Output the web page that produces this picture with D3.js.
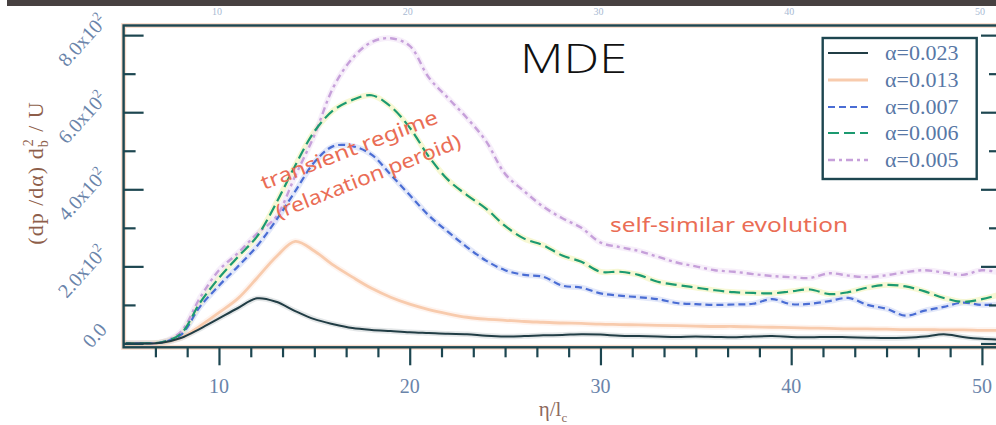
<!DOCTYPE html>
<html>
<head>
<meta charset="utf-8">
<script src="https://cdn.jsdelivr.net/npm/d3@7"></script>
<style>
  html, body { margin: 0; padding: 0; background: #ffffff; }
  svg { display: block; }
</style>
</head>
<body>
<script>
// Normalised distance η/l_c
const eta = [5, 6, 7, 8, 9, 10, 11, 12, 13, 14, 15, 16, 17, 18, 19, 20, 21, 22, 23, 24,
             25, 26, 27, 28, 29, 30, 31, 32, 33, 34, 35, 36, 37, 38, 39, 40, 41, 42, 43, 44,
             45, 46, 47, 48, 49, 50, 51];

// (dp/dα) d_b^2 / U for each entrainment coefficient
const alpha023 = [0, 0, 2, 14, 38, 65, 92, 117, 108, 84, 63, 50, 40, 35, 32, 29, 27, 25, 24, 20,
                  18, 19, 21, 22, 24, 23, 20, 19, 18, 17, 18, 17, 16, 18, 19, 17, 16, 17, 16, 15,
                  14, 15, 18, 24, 17, 12, 10];
const alpha013 = [0, 0, 2, 15, 45, 80, 117, 170, 225, 265, 240, 203, 172, 143, 120, 102, 88, 77, 68, 63,
                  60, 57, 55, 53, 52, 50, 49, 48, 47, 46, 45, 44, 44, 43, 42, 41, 40, 39, 38, 38,
                  37, 36, 36, 35, 35, 34, 34];
const alpha007 = [0, 0, 3, 22, 95, 150, 200, 253, 320, 395, 470, 512, 512, 490, 438, 385, 332, 290, 250, 215,
                  190, 178, 173, 150, 145, 130, 124, 120, 115, 105, 102, 100, 101, 103, 115, 102, 103, 110, 118, 100,
                  90, 72, 85, 95, 106, 100, 102];
const alpha006 = [0, 0, 3, 25, 105, 170, 225, 278, 364, 462, 550, 605, 632, 644, 615, 560, 485, 425, 385, 350,
                  305, 272, 255, 228, 212, 186, 186, 178, 160, 152, 145, 138, 133, 131, 130, 135, 140, 128, 133, 145,
                  152, 148, 135, 118, 108, 115, 128];
const alpha005 = [0, 0, 3, 30, 118, 190, 235, 285, 329, 435, 540, 665, 740, 782, 792, 772, 690, 637, 585, 525,
                  440, 395, 355, 325, 300, 262, 250, 240, 225, 210, 200, 190, 186, 180, 175, 172, 170, 182, 176, 172,
                  177, 185, 190, 184, 178, 190, 183];

const seriesNames = ["α=0.023", "α=0.013", "α=0.007", "α=0.006", "α=0.005"];
const seriesValues = [alpha023, alpha013, alpha007, alpha006, alpha005];

const yMajorTicks = [0, 200, 400, 600, 800];
const yMinorTicks = [100, 300, 500, 700];
const yTickMantissa = ["0.0", "2.0x10", "4.0x10", "6.0x10", "8.0x10"];
const yTickExponent = ["", "2", "2", "2", "2"];
const xMajorTicks = [10, 20, 30, 40, 50];
const xTickLabels = ["10", "20", "30", "40", "50"];
const xMinorTicks = [6.667, 8.333, 11.667, 13.333, 15, 16.667, 18.333, 21.667, 23.333, 25, 26.667, 28.333,
                     31.667, 33.333, 35, 36.667, 38.333, 41.667, 43.333, 45, 46.667, 48.333];

// line styles, one per series
const styles = [
  { color: "#213d45", width: 2.0, dash: null,        halo: "#213d45", haloOpacity: 0.12 },
  { color: "#f8cbad", width: 2.8, dash: null,        halo: "#fbdccb", haloOpacity: 0.3 },
  { color: "#4a6dd4", width: 2.2, dash: "7,4",       halo: "#b9c6f0", haloOpacity: 0.4 },
  { color: "#1c9a70", width: 2.2, dash: "11,5",      halo: "#eef0a0", haloOpacity: 0.45 },
  { color: "#c6a0da", width: 2.4, dash: "7,4,3,4",   halo: "#ead8f2", haloOpacity: 0.4 }
];

const W = 996, H = 425;
const frame = { left: 123.6, right: 1001, top: 25.5, bottom: 347.3 };
const frameColor = "#1d4650";
const tickTextColor = "#6a84aa";

const x = d3.scaleLinear().domain([5, 51]).range([frame.left, frame.right]);
const y = d3.scaleLinear().domain([-10, 825]).range([frame.bottom, frame.top]);

const svg = d3.select("body").append("svg")
  .attr("width", W).attr("height", H)
  .style("font-family", "'Liberation Serif', 'DejaVu Serif', serif");

// dark strip along the top, with the neighbouring panel's x labels just below it
svg.append("rect").attr("x", 7).attr("y", 0).attr("width", W - 7).attr("height", 6).attr("fill", "#474141");
svg.append("g").selectAll("text").data(xTickLabels).join("text")
  .attr("x", (d, i) => x(xMajorTicks[i]) - 2)
  .attr("y", 15)
  .attr("text-anchor", "middle")
  .attr("font-size", 10)
  .attr("fill", "#a9bad3")
  .text(d => d);

svg.append("defs").append("clipPath").attr("id", "plot-clip")
  .append("rect")
  .attr("x", frame.left).attr("y", frame.top)
  .attr("width", frame.right - frame.left).attr("height", frame.bottom - frame.top);

// curves
const line = d3.line()
  .x((d, i) => x(eta[i]))
  .y(d => y(d))
  .curve(d3.curveCatmullRom.alpha(0.5));

const plot = svg.append("g").attr("clip-path", "url(#plot-clip)");
// soft halo under each curve
seriesValues.forEach((vals, k) => {
  plot.append("path").datum(vals)
    .attr("d", line)
    .attr("fill", "none")
    .attr("stroke", styles[k].halo)
    .attr("stroke-width", styles[k].width + 3.5)
    .attr("stroke-opacity", styles[k].haloOpacity)
    .attr("stroke-linejoin", "round");
});
// light curves first so the darker ones sit on top
[1, 4, 2, 3, 0].forEach(k => {
  plot.append("path").datum(seriesValues[k])
    .attr("d", line)
    .attr("fill", "none")
    .attr("stroke", styles[k].color)
    .attr("stroke-width", styles[k].width)
    .attr("stroke-dasharray", styles[k].dash)
    .attr("stroke-linejoin", "round");
});

// frame
svg.append("rect")
  .attr("x", frame.left).attr("y", frame.top)
  .attr("width", frame.right - frame.left).attr("height", frame.bottom - frame.top)
  .attr("fill", "none").attr("stroke", "#f6c2a6").attr("stroke-width", 5).attr("stroke-opacity", 0.55);
svg.append("rect")
  .attr("x", frame.left).attr("y", frame.top)
  .attr("width", frame.right - frame.left).attr("height", frame.bottom - frame.top)
  .attr("fill", "none").attr("stroke", frameColor).attr("stroke-width", 2.4);

function styleAxis(g) {
  g.select(".domain").remove();
  g.selectAll(".tick line").attr("stroke", frameColor).attr("stroke-width", 2.2);
  g.selectAll(".tick text").remove();
}

// y ticks (inward on both sides)
svg.append("g").attr("transform", `translate(${frame.left},0)`)
  .call(d3.axisLeft(y).tickValues(yMajorTicks).tickSize(-20)).call(styleAxis);
svg.append("g").attr("transform", `translate(${frame.left},0)`)
  .call(d3.axisLeft(y).tickValues(yMinorTicks).tickSize(-12)).call(styleAxis);
svg.append("g").attr("transform", `translate(${frame.right},0)`)
  .call(d3.axisRight(y).tickValues(yMajorTicks).tickSize(-20)).call(styleAxis);
svg.append("g").attr("transform", `translate(${frame.right},0)`)
  .call(d3.axisRight(y).tickValues(yMinorTicks).tickSize(-12)).call(styleAxis);

// x ticks (outward)
svg.append("g").attr("transform", `translate(0,${frame.bottom})`)
  .call(d3.axisBottom(x).tickValues(xMajorTicks).tickSize(18)).call(styleAxis);
svg.append("g").attr("transform", `translate(0,${frame.bottom})`)
  .call(d3.axisBottom(x).tickValues(xMinorTicks).tickSize(10)).call(styleAxis);

// x tick labels
svg.append("g").selectAll("text").data(xTickLabels).join("text")
  .attr("x", (d, i) => x(xMajorTicks[i]))
  .attr("y", 393)
  .attr("text-anchor", "middle")
  .attr("font-size", 20)
  .attr("fill", tickTextColor)
  .text(d => d);

// y tick labels, slanted
const yLabels = svg.append("g").selectAll("text").data(yMajorTicks).join("text")
  .attr("transform", d => `translate(108,${y(d) - 13}) rotate(-48)`)
  .attr("text-anchor", "end")
  .attr("font-size", 20)
  .attr("fill", tickTextColor);
yLabels.append("tspan").text((d, i) => yTickMantissa[i]);
yLabels.append("tspan").attr("dy", -8).attr("font-size", 13).text((d, i) => yTickExponent[i]);

// axis titles
const yTitle = svg.append("text")
  .attr("transform", "translate(43,173) rotate(-90)")
  .attr("text-anchor", "middle")
  .attr("font-size", 22)
  .attr("letter-spacing", 1)
  .attr("fill", "#8e5e4a");
yTitle.append("tspan").text("(dp /dα) d");
yTitle.append("tspan").attr("dy", 5).attr("font-size", 14).text("b");
yTitle.append("tspan").attr("dx", -7).attr("dy", -15).attr("font-size", 14).text("2");
yTitle.append("tspan").attr("dy", 10).text(" / U");

const xTitle = svg.append("text")
  .attr("x", 553).attr("y", 416)
  .attr("text-anchor", "middle")
  .attr("font-size", 21)
  .attr("fill", "#8e6a5e");
xTitle.append("tspan").text("η/l");
xTitle.append("tspan").attr("dy", 6).attr("font-size", 13).text("c");

// legend
const legend = svg.append("g");
legend.append("rect")
  .attr("x", 822.7).attr("y", 38).attr("width", 154).attr("height", 141)
  .attr("fill", "#ffffff").attr("stroke", frameColor).attr("stroke-width", 2.4);
const rowY = [53, 80, 107, 133, 160];
seriesNames.forEach((name, k) => {
  legend.append("line")
    .attr("x1", 828).attr("x2", 868)
    .attr("y1", rowY[k]).attr("y2", rowY[k])
    .attr("stroke", styles[k].color)
    .attr("stroke-width", styles[k].width)
    .attr("stroke-dasharray", styles[k].dash);
  legend.append("text")
    .attr("x", 885).attr("y", rowY[k] + 7)
    .attr("font-size", 22)
    .attr("fill", "#5877a6")
    .text(name);
});

// annotations
svg.append("text")
  .attr("x", 520).attr("y", 73)
  .attr("font-family", "'Open Sans', 'DejaVu Sans', sans-serif")
  .attr("font-weight", 300)
  .attr("font-size", 41)
  .attr("textLength", 107).attr("lengthAdjust", "spacingAndGlyphs")
  .attr("fill", "#111111")
  .text("MDE");

const noteColor = "#ea6d55";
const noteFont = "'Noto Sans', 'DejaVu Sans', sans-serif";
svg.append("text")
  .attr("transform", "translate(264,190) rotate(-21)")
  .attr("font-family", noteFont).attr("font-size", 20)
  .attr("textLength", 188).attr("lengthAdjust", "spacingAndGlyphs")
  .attr("fill", noteColor)
  .text("transient regime");
svg.append("text")
  .attr("transform", "translate(279,219) rotate(-21.5)")
  .attr("font-family", noteFont).attr("font-size", 20)
  .attr("textLength", 197).attr("lengthAdjust", "spacingAndGlyphs")
  .attr("fill", noteColor)
  .text("(relaxation peroid)");
svg.append("text")
  .attr("x", 610).attr("y", 232)
  .attr("font-family", noteFont).attr("font-size", 20)
  .attr("textLength", 238).attr("lengthAdjust", "spacingAndGlyphs")
  .attr("fill", noteColor)
  .text("self-similar evolution");
</script>
</body>
</html>
